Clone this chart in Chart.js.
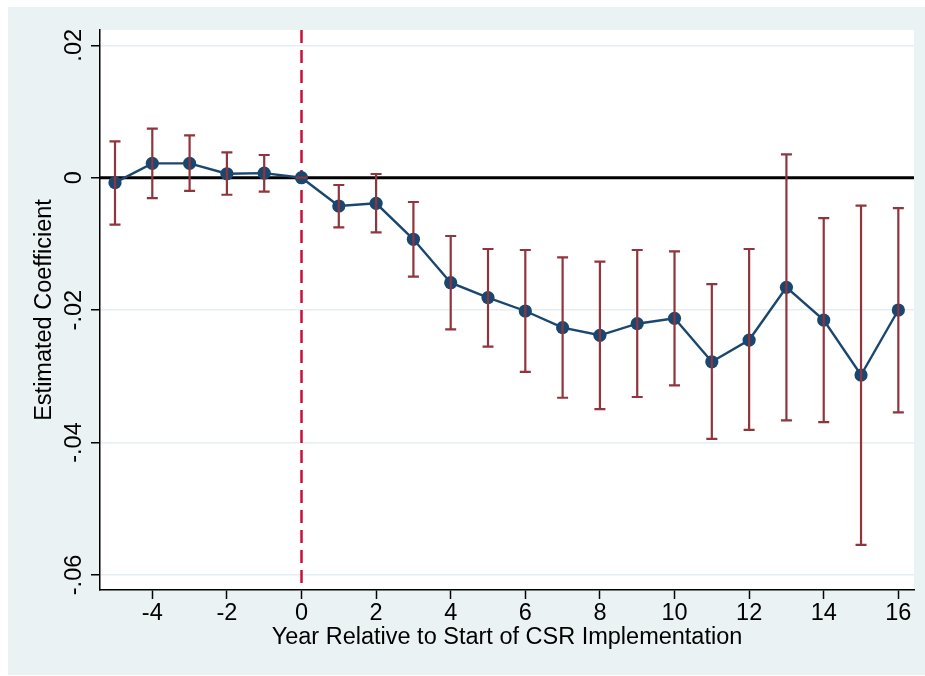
<!DOCTYPE html>
<html>
<head>
<meta charset="utf-8">
<script src="https://cdn.jsdelivr.net/npm/chart.js@4.4.1/dist/chart.umd.min.js"></script>
<style>
html,body{margin:0;padding:0;background:#fff;}
#wrap{width:925px;height:676px;position:relative;}
</style>
</head>
<body>
<div id="wrap"><canvas id="c" width="925" height="676"></canvas></div>
<script>
// ---- data ----
const years = [-5,-4,-3,-2,-1,0,1,2,3,4,5,6,7,8,9,10,11,12,13,14,15,16];
const coef  = [-0.00075,0.00217,0.00217,0.0006,0.0007,0,-0.00427,-0.00387,-0.0093,-0.01586,-0.0181,-0.02013,-0.02265,-0.0238,-0.02205,-0.02124,-0.0278,-0.02452,-0.01656,-0.0215,-0.0298,-0.01998];
const ciLow = [-0.0071,-0.00307,-0.0020,-0.00257,-0.00211,0,-0.0075,-0.00825,-0.01495,-0.0229,-0.02552,-0.02934,-0.03323,-0.03494,-0.03312,-0.03136,-0.03943,-0.0381,-0.03665,-0.0369,-0.05544,-0.03544];
const ciHigh= [0.0055,0.0074,0.0064,0.00384,0.00343,0,-0.0011,0.00056,-0.00367,-0.0088,-0.01077,-0.01092,-0.01202,-0.01268,-0.01092,-0.01112,-0.01606,-0.01077,0.00353,-0.00609,-0.00423,-0.00458];
const xTicks = [-4,-2,0,2,4,6,8,10,12,14,16];
const yTicks = [-0.06,-0.04,-0.02,0,0.02];
const yTickLabels = ['-.06','-.04','-.02','0','.02'];
const xTitle = 'Year Relative to Start of CSR Implementation';
const yTitle = 'Estimated Coefficient';

const FONT = '"Liberation Sans", Arial, sans-serif';
const FSIZE = 23.5;
const PANEL = '#EAF2F3';

const bgPlugin = {
  id:'bg',
  beforeDraw(chart){
    const {ctx, chartArea:a} = chart;
    ctx.save();
    ctx.fillStyle='#fff'; ctx.fillRect(0,0,chart.width,chart.height);
    ctx.fillStyle=PANEL; ctx.fillRect(8,7,chart.width-8,668);
    ctx.fillStyle='#fff'; ctx.fillRect(a.left,a.top,a.right-a.left,a.bottom-a.top);
    ctx.restore();
  }
};

const refPlugin = {
  id:'refs',
  beforeDatasetsDraw(chart){
    const {ctx, chartArea:a, scales:{x,y}} = chart;
    ctx.save();
    const y0 = y.getPixelForValue(0);
    ctx.strokeStyle='#000'; ctx.lineWidth=3;
    ctx.beginPath(); ctx.moveTo(a.left,y0); ctx.lineTo(a.right,y0); ctx.stroke();
    const x0 = x.getPixelForValue(0);
    ctx.strokeStyle='#C8103A'; ctx.lineWidth=2.5; ctx.setLineDash([13,7]);
    ctx.beginPath(); ctx.moveTo(x0,a.top); ctx.lineTo(x0,a.bottom); ctx.stroke();
    ctx.restore();
  },
  afterDatasetsDraw(chart){
    const {ctx, scales:{x,y}} = chart;
    ctx.save();
    ctx.strokeStyle='#90353B'; ctx.lineWidth=2.2;
    for(let i=0;i<years.length;i++){
      const px=x.getPixelForValue(years[i]);
      const pl=y.getPixelForValue(ciLow[i]);
      const ph=y.getPixelForValue(ciHigh[i]);
      ctx.beginPath();
      ctx.moveTo(px,pl); ctx.lineTo(px,ph);
      ctx.moveTo(px-5.5,pl); ctx.lineTo(px+5.5,pl);
      ctx.moveTo(px-5.5,ph); ctx.lineTo(px+5.5,ph);
      ctx.stroke();
    }
    ctx.restore();
  },
  afterDraw(chart){
    const {ctx, scales:{y}} = chart;
    ctx.save();
    ctx.fillStyle='#000';
    ctx.font=FSIZE+'px '+FONT;
    ctx.textAlign='center'; ctx.textBaseline='alphabetic';
    yTicks.forEach((v,i)=>{
      const py=y.getPixelForValue(v);
      ctx.save(); ctx.translate(81,py); ctx.rotate(-Math.PI/2);
      ctx.fillText(yTickLabels[i],0,0); ctx.restore();
    });
    ctx.restore();
  }
};

new Chart(document.getElementById('c'),{
  type:'line',
  data:{datasets:[{
    data: years.map((v,i)=>({x:v,y:coef[i]})),
    borderColor:'#1A476F', borderWidth:2.4,
    backgroundColor:'#1A476F', pointBackgroundColor:'#1A476F',
    pointBorderWidth:0, pointRadius:6.6, pointHoverRadius:6.6,
    tension:0, fill:false
  }]},
  options:{
    responsive:false, animation:false, devicePixelRatio:1,
    layout:{padding:{left:0,top:30,right:11,bottom:0}},
    plugins:{legend:{display:false},tooltip:{enabled:false}},
    scales:{
      x:{type:'linear',min:-5.402,max:16.42,
        afterBuildTicks(s){s.ticks=xTicks.map(v=>({value:v}));},
        afterFit(s){s.height=86;},
        grid:{drawOnChartArea:false,drawTicks:true,tickLength:9,tickColor:'#000',tickWidth:1.5},
        border:{display:true,color:'#000',width:1.5},
        ticks:{color:'#000',font:{family:FONT,size:FSIZE},padding:0,maxRotation:0,autoSkip:false},
        title:{display:true,text:xTitle,color:'#000',font:{family:FONT,size:FSIZE},padding:{top:0,bottom:24}}
      },
      y:{type:'linear',min:-0.06227,max:0.02231,
        afterBuildTicks(s){s.ticks=yTicks.map(v=>({value:v}));},
        afterFit(s){s.width=100;},
        grid:{drawOnChartArea:true,color:'#E6EEF1',lineWidth:1.5,drawTicks:true,tickLength:9,tickColor:'#000',tickWidth:1.5},
        border:{display:true,color:'#000',width:1.5},
        ticks:{display:false},
        title:{display:true,text:yTitle,color:'#000',font:{family:FONT,size:FSIZE},padding:{top:30,bottom:0}}
      }
    }
  },
  plugins:[bgPlugin,refPlugin]
});
</script>
</body>
</html>
